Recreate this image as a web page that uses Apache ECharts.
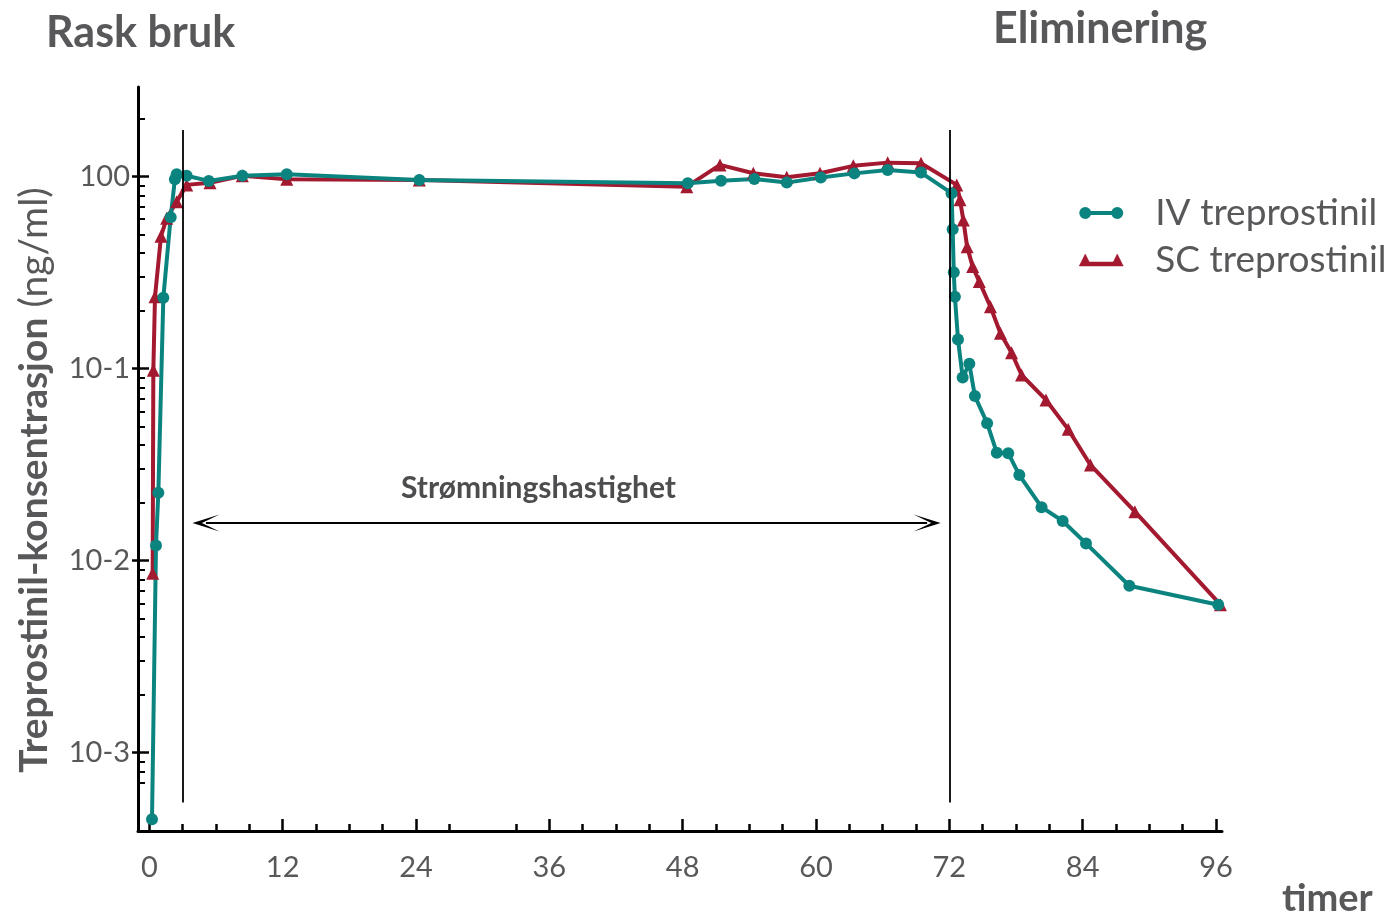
<!DOCTYPE html>
<html>
<head>
<meta charset="utf-8">
<script src="https://cdn.jsdelivr.net/npm/echarts@6/dist/echarts.min.js"></script>
<style>
  html, body { margin: 0; padding: 0; background: #fff; }
  #main { width: 1389px; height: 917px; }
</style>
</head>
<body>
<div id="main"></div>
<script>
// timer etter start / konsentrasjon (ng/ml)
var ivHours = [0.24, 0.6, 0.81, 1.26, 1.92, 2.3, 2.46, 3.36, 5.35, 8.37, 12.37, 24.3,
  48.46, 51.45, 54.45, 57.37, 60.43, 63.45, 66.45, 69.45,
  72.2, 72.3, 72.4, 72.5, 72.78, 73.2, 73.8, 74.3, 75.4, 76.27, 77.3, 78.3,
  80.3, 82.2, 84.3, 88.2, 96.2];
var ivConc = [0.00045, 0.012, 0.0226, 0.234, 0.615, 0.97, 1.03, 1.01, 0.95, 1.01, 1.03, 0.96,
  0.925, 0.953, 0.973, 0.931, 0.989, 1.04, 1.084, 1.05,
  0.82, 0.532, 0.318, 0.237, 0.142, 0.090, 0.106, 0.072, 0.052, 0.0365, 0.0363, 0.0279,
  0.019, 0.0161, 0.0123, 0.0074, 0.0059];

var scHours = [0.3, 0.36, 0.51, 1.05, 1.56, 2.46, 3.36, 5.46, 8.37, 12.37, 24.3,
  48.37, 51.36, 54.36, 57.37, 60.36, 63.36, 66.45, 69.45,
  72.67, 72.96, 73.26, 73.6, 74.1, 74.7, 75.7, 76.6, 77.6, 78.5,
  80.7, 82.7, 84.7, 88.7, 96.4];
var scConc = [0.0086, 0.098, 0.237, 0.49, 0.607, 0.741, 0.906, 0.93, 1.01, 0.968, 0.96,
  0.887, 1.151, 1.042, 0.993, 1.042, 1.138, 1.183, 1.175,
  0.906, 0.757, 0.594, 0.432, 0.34, 0.284, 0.21, 0.153, 0.121, 0.0927,
  0.0687, 0.0483, 0.0315, 0.018, 0.0059];

var xLabels = [0, 12, 24, 36, 48, 60, 72, 84, 96];
var xMinorTicks = [0, 3, 6, 9, 15, 18, 21, 27, 33, 39, 42, 45, 51, 54, 57, 63, 66, 69, 75, 78, 81, 87, 90, 93];
var yDecades = [1, 0.1, 0.01, 0.001];
var yMinorTicks = [2,
  0.9, 0.8, 0.7, 0.6, 0.5, 0.4, 0.3, 0.2,
  0.09, 0.08, 0.07, 0.06, 0.05, 0.04, 0.03, 0.02,
  0.009, 0.008, 0.007, 0.006, 0.005, 0.004, 0.003, 0.002,
  0.0009, 0.0008, 0.0007];

// infusjonsstart/-stopp og pil
var infusionStart = 3, infusionStop = 72;
var lineTop = 1.75, lineBottom = 0.00055;
var arrowFrom = 5.1, arrowTo = 70.0, arrowLevel = 0.0157;

var TEAL = '#0b8480';
var RED = '#a3192f';
var GREY = '#58585b';
var FONT = 'Lato, "Open Sans", sans-serif';
var ARROW = 'path://M8,0 L16,26 L8,9 L0,26 Z';

function zip(a, b) {
  return a.map(function (v, i) { return [v, b[i]]; });
}

var chart = echarts.init(document.getElementById('main'));

var xRange = { min: -1.02, max: 96.54 };
var yRange = { min: 0.000391, max: 2.93 };

var option = {
  animation: false,
  backgroundColor: '#fff',
  grid: { left: 138, right: 167, top: 87, bottom: 86 },
  title: [
    { text: 'Rask bruk', left: 41, top: 7,
      textStyle: { fontFamily: FONT, fontWeight: 'bold', fontSize: 43, color: GREY } },
    { text: 'Eliminering', left: 988, top: 3,
      textStyle: { fontFamily: FONT, fontWeight: 'bold', fontSize: 43, color: GREY } },
    { text: 'timer', left: 1277, top: 875,
      textStyle: { fontFamily: FONT, fontWeight: 'bold', fontSize: 38, color: GREY } }
  ],
  legend: {
    orient: 'vertical',
    left: 1074,
    top: 186,
    itemWidth: 44,
    itemHeight: 12,
    itemGap: 3,
    symbolKeepAspect: false,
    itemStyle: { borderWidth: 0 },
    data: [
      { name: 'IV treprostinil', itemStyle: { color: TEAL, borderWidth: 0 },
        icon: 'path://M0,6a6,6 0 1,1 12,0a6,6 0 1,1 -12,0Z M32,6a6,6 0 1,1 12,0a6,6 0 1,1 -12,0Z M6,4h32v4h-32Z' },
      { name: 'SC treprostinil', itemStyle: { color: RED, borderColor: RED, borderWidth: 0.5 },
        icon: 'path://M0,12L6,0L10,8L34,8L38,0L44,12Z' }
    ],
    textStyle: { fontFamily: FONT, fontSize: 37, color: GREY, lineHeight: 44, padding: [0, 0, 0, 27] }
  },
  xAxis: [
    {
      type: 'value', position: 'bottom', min: xRange.min, max: xRange.max,
      axisLine: { show: true, onZero: false, lineStyle: { color: '#000', width: 3 } },
      axisTick: { show: true, inside: true, length: 12, customValues: xLabels.slice(1),
        lineStyle: { color: '#000', width: 2.5 } },
      axisLabel: { customValues: xLabels, fontFamily: FONT, fontSize: 29, color: GREY, margin: 22 },
      splitLine: { show: false }
    },
    {
      type: 'value', position: 'bottom', min: xRange.min, max: xRange.max,
      axisLine: { show: false, onZero: false },
      axisTick: { show: true, inside: true, length: 7, customValues: xMinorTicks,
        lineStyle: { color: '#000', width: 2.5 } },
      axisLabel: { show: false },
      splitLine: { show: false }
    }
  ],
  yAxis: [
    {
      type: 'log', position: 'left', min: yRange.min, max: yRange.max,
      axisLine: { show: true, onZero: false, lineStyle: { color: '#000', width: 3 } },
      axisTick: { show: true, inside: false, length: 6, customValues: yDecades,
        lineStyle: { color: '#000', width: 2.5 } },
      axisLabel: {
        customValues: yDecades, fontFamily: FONT, fontSize: 29, color: GREY, margin: 8,
        formatter: function (v) {
          var e = Math.round(Math.log10(v));
          return e === 0 ? '100' : '10' + e;
        }
      },
      splitLine: { show: false }
    },
    {
      type: 'log', position: 'left', min: yRange.min, max: yRange.max,
      axisLine: { show: false, onZero: false },
      axisTick: { show: true, inside: true, length: 11, customValues: yDecades,
        lineStyle: { color: '#000', width: 2.5 } },
      axisLabel: { show: false },
      splitLine: { show: false }
    },
    {
      type: 'log', position: 'left', min: yRange.min, max: yRange.max,
      axisLine: { show: false, onZero: false },
      axisTick: { show: true, inside: true, length: 7, customValues: yMinorTicks,
        lineStyle: { color: '#000', width: 2 } },
      axisLabel: { show: false },
      splitLine: { show: false }
    }
  ],
  graphic: [
    {
      type: 'text', x: 34, y: 480, rotation: Math.PI / 2,
      style: {
        text: '{b|Treprostinil-konsentrasjon}{n| (ng/ml)}',
        align: 'center', verticalAlign: 'middle',
        rich: {
          b: { fontFamily: FONT, fontWeight: 'bold', fontSize: 39, fill: GREY },
          n: { fontFamily: FONT, fontSize: 39, fill: GREY }
        }
      }
    },
    {
      type: 'text', left: 401, top: 473,
      style: { text: 'Strømningshastighet', fontFamily: FONT, fontWeight: 'bold', fontSize: 30, fill: '#4d4d4f' }
    }
  ],
  series: [
    {
      name: 'SC treprostinil', type: 'line', xAxisIndex: 0, yAxisIndex: 0,
      data: zip(scHours, scConc),
      symbol: 'triangle', symbolSize: 13,
      itemStyle: { color: RED },
      lineStyle: { color: RED, width: 4 },
      markLine: {
        silent: true,
        symbol: ['none', 'none'],
        label: { show: false },
        lineStyle: { color: '#000', width: 1.8, type: 'solid' },
        data: [
          [{ coord: [infusionStart, lineTop] }, { coord: [infusionStart, lineBottom] }],
          [{ coord: [infusionStop, lineTop] }, { coord: [infusionStop, lineBottom] }],
          [
            { coord: [arrowFrom, arrowLevel], symbol: ARROW, symbolSize: [17, 27] },
            { coord: [arrowTo, arrowLevel], symbol: ARROW, symbolSize: [17, 27] }
          ]
        ]
      }
    },
    {
      name: 'IV treprostinil', type: 'line', xAxisIndex: 0, yAxisIndex: 0,
      data: zip(ivHours, ivConc),
      symbol: 'circle', symbolSize: 12,
      itemStyle: { color: TEAL },
      lineStyle: { color: TEAL, width: 4 }
    }
  ]
};

chart.setOption(option);
</script>
</body>
</html>
